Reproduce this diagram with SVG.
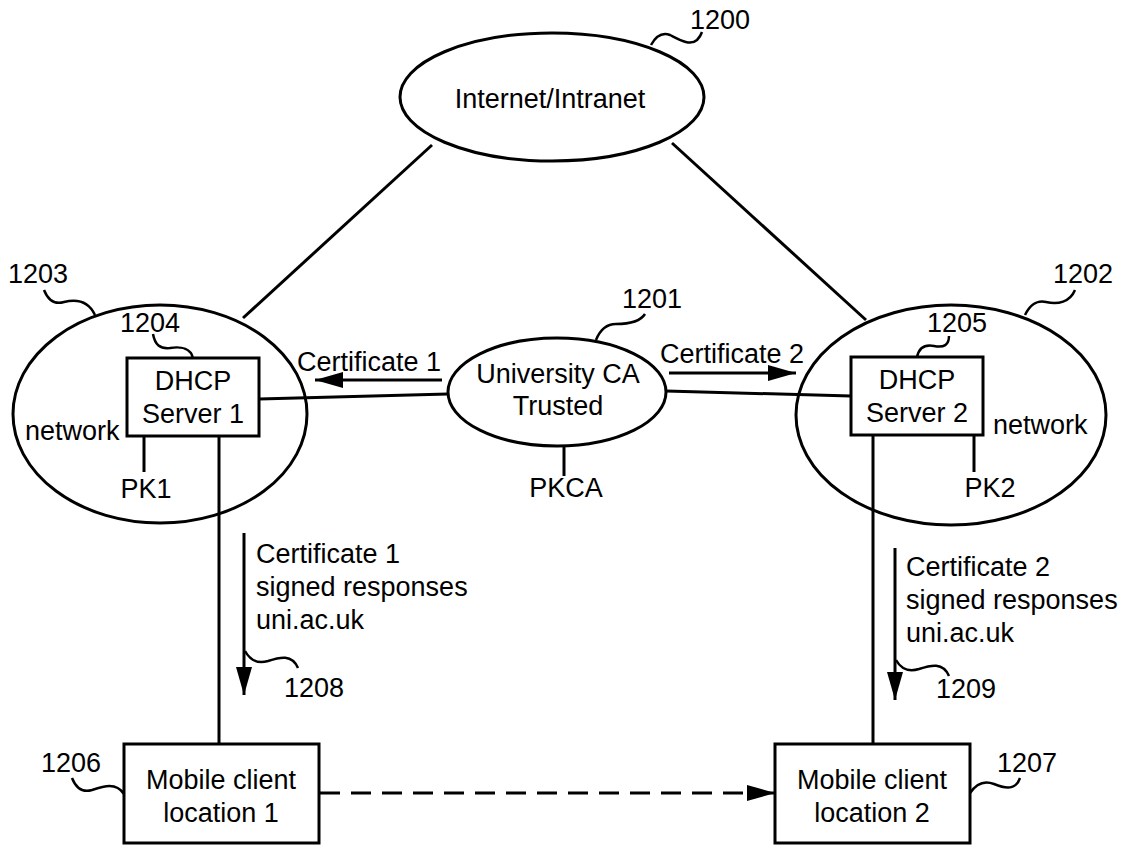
<svg xmlns="http://www.w3.org/2000/svg" width="1127" height="846" viewBox="0 0 1127 846">
<style>
.s{fill:none;stroke:#000;stroke-width:3}
.t{font-family:"Liberation Sans",Arial,sans-serif;font-size:27px;fill:#000}
.m{text-anchor:middle}
.q{fill:none;stroke:#000;stroke-width:2.5}
</style>
<defs>
<marker id="ah" markerUnits="userSpaceOnUse" markerWidth="28" markerHeight="16" refX="28" refY="8" orient="auto">
<path d="M0,0 L28,8 L0,16 z" fill="#000"/>
</marker>
</defs>
<rect width="1127" height="846" fill="#fff"/>
<g id="connectors">
<line class="s" x1="432" y1="145" x2="243" y2="318"/>
<line class="s" x1="672" y1="143" x2="866" y2="320"/>
<line class="s" x1="259" y1="399" x2="448" y2="394"/>
<line class="s" x1="666" y1="391" x2="851" y2="396"/>
<line class="s" x1="442" y1="380" x2="315" y2="380" marker-end="url(#ah)"/>
<line class="s" x1="669" y1="373" x2="796" y2="373" marker-end="url(#ah)"/>
<line class="s" x1="144" y1="436" x2="144" y2="472"/>
<line class="s" x1="219" y1="436" x2="219" y2="744"/>
<line class="s" x1="564" y1="445" x2="564" y2="476"/>
<line class="s" x1="974" y1="435" x2="974" y2="472"/>
<line class="s" x1="873" y1="435" x2="873" y2="744"/>
<line class="s" x1="244" y1="533" x2="244" y2="695" marker-end="url(#ah)"/>
<line class="s" x1="895" y1="548" x2="895" y2="700" marker-end="url(#ah)"/>
<line class="s" x1="320" y1="793" x2="775" y2="793" stroke-dasharray="20,11" marker-end="url(#ah)"/>
<text class="t" x="297" y="371">Certificate 1</text>
<text class="t" x="660" y="363">Certificate 2</text>
</g>
<g id="n1200">
<ellipse class="s" cx="552" cy="97" rx="152" ry="64"/>
<text class="t m" x="550" y="108">Internet/Intranet</text>
<path class="q" d="M651,45 C656,36 662,32 670,35 C680,40 690,46 697,40 C700,37 701,35 702,32"/>
<text class="t" x="690" y="29">1200</text>
</g>
<g id="n1203">
<ellipse class="s" cx="160" cy="414" rx="147" ry="109"/>
<text class="t" x="8" y="283">1203</text>
<path class="q" d="M44,290 C48,300 54,305 64,302 C76,299 88,300 95,315"/>
<text class="t" x="25" y="440">network</text>
</g>
<g id="n1204">
<rect class="s" x="127" y="358" width="132" height="78"/>
<text class="t m" x="193" y="390">DHCP</text>
<text class="t m" x="193" y="423">Server 1</text>
<text class="t" x="120" y="332">1204</text>
<path class="q" d="M153,334 C155,345 160,349 170,348 C182,346 191,349 193,358"/>
<text class="t m" x="146" y="498">PK1</text>
</g>
<g id="n1201">
<ellipse class="s" cx="557" cy="392" rx="109" ry="54"/>
<text class="t m" x="558" y="383">University CA</text>
<text class="t m" x="558" y="415">Trusted</text>
<path class="q" d="M596,340 C600,330 606,324 616,324 C628,324 640,322 645,314"/>
<text class="t" x="622" y="308">1201</text>
<text class="t m" x="566" y="497">PKCA</text>
</g>
<g id="n1202">
<ellipse class="s" cx="951" cy="415" rx="155" ry="110"/>
<text class="t" x="1053" y="283">1202</text>
<path class="q" d="M1025,315 C1030,305 1036,300 1046,302 C1058,305 1070,302 1075,290"/>
<text class="t" x="993" y="434">network</text>
</g>
<g id="n1205">
<rect class="s" x="851" y="357" width="132" height="78"/>
<text class="t m" x="917" y="389">DHCP</text>
<text class="t m" x="917" y="422">Server 2</text>
<text class="t" x="927" y="332">1205</text>
<path class="q" d="M917,357 C919,348 924,344 934,346 C944,348 949,345 949,336"/>
<text class="t m" x="990" y="497">PK2</text>
</g>
<g id="n1208">
<text class="t" x="256" y="563">Certificate 1</text>
<text class="t" x="256" y="596">signed responses</text>
<text class="t" x="256" y="629">uni.ac.uk</text>
<path class="q" d="M245,651 C250,660 258,664 268,661 C280,657 292,654 298,668"/>
<text class="t" x="284" y="697">1208</text>
</g>
<g id="n1209">
<text class="t" x="906" y="576">Certificate 2</text>
<text class="t" x="906" y="609">signed responses</text>
<text class="t" x="906" y="642">uni.ac.uk</text>
<path class="q" d="M896,660 C901,669 909,672 919,669 C931,665 943,662 949,676"/>
<text class="t" x="936" y="698">1209</text>
</g>
<g id="n1206">
<rect class="s" x="124" y="744" width="195" height="99"/>
<text class="t m" x="221" y="789">Mobile client</text>
<text class="t m" x="221" y="822">location 1</text>
<text class="t" x="41" y="772">1206</text>
<path class="q" d="M72,778 C76,788 82,793 92,790 C104,786 116,782 124,794"/>
</g>
<g id="n1207">
<rect class="s" x="775" y="744" width="195" height="99"/>
<text class="t m" x="872" y="789">Mobile client</text>
<text class="t m" x="872" y="822">location 2</text>
<text class="t" x="997" y="772">1207</text>
<path class="q" d="M970,793 C976,784 984,780 994,784 C1006,789 1016,790 1020,778"/>
</g>
</svg>
